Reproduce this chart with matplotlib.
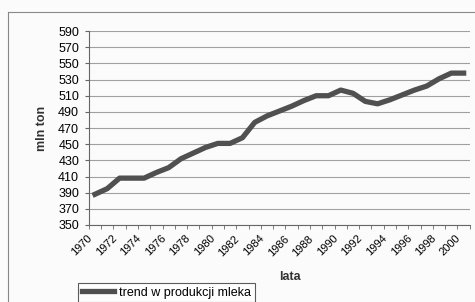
import matplotlib
matplotlib.use('Agg')
import matplotlib.pyplot as plt
from matplotlib.lines import Line2D
from matplotlib.transforms import ScaledTranslation

plt.rcParams['font.family'] = ['Liberation Sans', 'DejaVu Sans']

years = list(range(1970, 2001))
milk = [388, 395, 408, 408, 408, 415, 421, 432, 439, 446,
        451, 451, 458, 477, 485, 491, 497, 504, 510, 510,
        517, 513, 503, 500, 505, 511, 517, 522, 531, 538, 538]
y_ticks = list(range(350, 591, 20))
year_labels = [str(y) for y in years[::2]]

fig = plt.figure(figsize=(4.75, 3.02), dpi=100, facecolor='#fbfbfb')
ax = fig.add_axes([0.187, 0.255, 0.802, 0.642])
ax.set_facecolor('#fbfbfb')

pos = list(range(len(years)))
line, = ax.plot(pos, milk, color='#505050', lw=3.8, solid_joinstyle='round',
                label='trend w produkcji mleka')

ax.set_xlim(-0.5, len(years) - 0.5)
ax.set_ylim(350, 590)
ax.set_yticks(y_ticks)
ax.tick_params(axis='y', labelsize=9, length=3, color='#666666', pad=4)
ax.yaxis.grid(True, color='#a0a0a0', lw=0.8)
ax.set_axisbelow(True)

ax.set_xticks(pos[::2])
ax.set_xticklabels(year_labels, rotation=45, ha='right', rotation_mode='anchor', fontsize=8)
ax.tick_params(axis='x', length=0, pad=6)
shift = ScaledTranslation(-8 / 100, 0, fig.dpi_scale_trans)
for lab in ax.get_xticklabels():
    lab.set_transform(lab.get_transform() + shift)
ax.set_xticks([p + 0.5 for p in range(-1, len(years))], minor=True)
ax.tick_params(axis='x', which='minor', length=3, color='#666666')

for s in ['top', 'right']:
    ax.spines[s].set_visible(False)
ax.spines['left'].set_color('#666666')
ax.spines['bottom'].set_color('#666666')

fig.text(0.088, 0.575, 'mln ton', rotation=90, ha='center', va='center',
         fontsize=9, fontweight='bold', color='#333333')
fig.text(0.61, 0.083, 'lata', ha='center', va='center',
         fontsize=9, fontweight='bold', color='#333333')

# outer chart border
fig.add_artist(Line2D([0.017, 1.0], [0.96, 0.96], color='#888888', lw=0.8))
fig.add_artist(Line2D([0.017, 0.017], [0.0, 0.96], color='#888888', lw=0.8))

leg = fig.legend(handles=[line], loc='upper left', bbox_to_anchor=(0.164, 0.063),
                 fontsize=9, frameon=True, fancybox=False, edgecolor='#333333',
                 handlelength=2.6, borderpad=0.3, handletextpad=0.4, borderaxespad=0)
leg.get_frame().set_linewidth(0.8)

fig.savefig('out.png', dpi=100, facecolor=fig.get_facecolor())
